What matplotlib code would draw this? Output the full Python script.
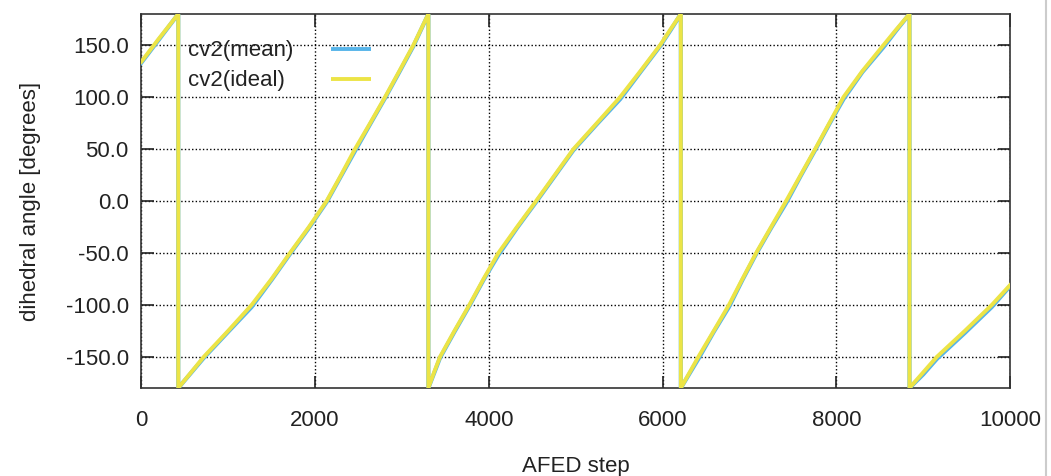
import matplotlib
matplotlib.use("Agg")
import matplotlib.pyplot as plt
from matplotlib.lines import Line2D

plt.rcParams['font.family'] = ['Liberation Sans', 'DejaVu Sans']

# AFED step and dihedral angle (degrees); the angle wraps from 180 to -180
steps_ideal = [0, 200, 426,
               426, 720, 1000, 1271, 1500, 1712, 1930, 2134, 2300, 2460, 2635, 2806, 2970, 3132, 3305,
               3305, 3370, 3439, 3605, 3777, 3940, 4111, 4325, 4545, 4760, 4975, 5245, 5512, 5745, 5972, 6090, 6211,
               6211, 6413, 6590, 6765, 6920, 7078, 7250, 7423, 7590, 7757, 7920, 8083, 8300, 8543, 8690, 8843,
               8843, 9000, 9158, 9480, 9791, 10000]
angle_ideal = [134, 156, 180,
               -180, -150, -125, -100, -75, -50, -25, 0, 25, 50, 75, 100, 125, 150, 180,
               -180, -165, -150, -125, -100, -75, -50, -25, 0, 25, 50, 75, 100, 125, 150, 165, 180,
               -180, -150, -125, -100, -75, -50, -25, 0, 25, 50, 75, 100, 125, 150, 165, 180,
               -180, -165, -150, -125, -100, -81]

steps_mean = steps_ideal
angle_mean = [133, 155, 180,
              -180, -151, -126, -102, -76, -51, -26, -1, 24, 48, 74, 99, 124, 149, 180,
              -180, -166, -151, -126, -101, -76, -52, -26, -1, 24, 49, 74, 98, 124, 149, 164, 180,
              -180, -152, -126, -102, -76, -51, -26, -2, 24, 49, 74, 98, 124, 148, 164, 180,
              -180, -167, -152, -127, -102, -82]

legend_labels = ['cv2(mean)', 'cv2(ideal)']
x_ticks = [0, 2000, 4000, 6000, 8000, 10000]
y_ticks = [-150, -100, -50, 0, 50, 100, 150]

BLUE = '#56b4e9'
YELLOW = '#ece446'
TXT = '#222222'

fig = plt.figure(figsize=(10.51, 4.76), dpi=100)
ax = fig.add_axes([0.1344, 0.1849, 0.8266, 0.7857])

ax.plot(steps_mean, angle_mean, color=BLUE, lw=3.0, zorder=3)
ax.plot(steps_ideal, angle_ideal, color=YELLOW, lw=2.8, zorder=4)

ax.set_xlim(0, 10000)
ax.set_ylim(-180, 180)
ax.set_xticks(x_ticks)
ax.set_yticks(y_ticks)
ax.set_xticklabels([str(v) for v in x_ticks])
ax.set_yticklabels([f"{v:.1f}" for v in y_ticks])

ax.grid(True, color='black', linestyle=(0, (1, 1.6)), linewidth=1.0)
ax.tick_params(direction='in', length=9, width=1.2, top=True, right=True,
               labelsize=16, colors=TXT)
ax.tick_params(axis='x', pad=16)
ax.tick_params(axis='y', pad=9)
for s in ax.spines.values():
    s.set_linewidth(1.2)
    s.set_color('#333333')

ax.set_xlabel('AFED step', fontsize=16, color=TXT, labelpad=18)
ax.set_ylabel('dihedral angle [degrees]', fontsize=16, color=TXT, labelpad=18)

# gnuplot-style key: left-aligned labels, samples in a column to the right
H = fig.get_figheight() * fig.dpi
W = fig.get_figwidth() * fig.dpi
key_rows = [(56, BLUE), (86, YELLOW)]
for (base_y, col), lab in zip(key_rows, legend_labels):
    fig.text(188 / W, 1 - base_y / H, lab, fontsize=16, color=TXT,
             ha='left', va='baseline', zorder=6)
    yy = 1 - (base_y - 7) / H
    fig.add_artist(Line2D([331 / W, 371 / W], [yy, yy], transform=fig.transFigure,
                          color=col, lw=2.8, solid_capstyle='butt', zorder=6))

fig.add_artist(Line2D([0.9955, 0.9955], [0, 1], transform=fig.transFigure,
                      color='#cccccc', lw=1.5))

fig.savefig('out.png', dpi=100)
